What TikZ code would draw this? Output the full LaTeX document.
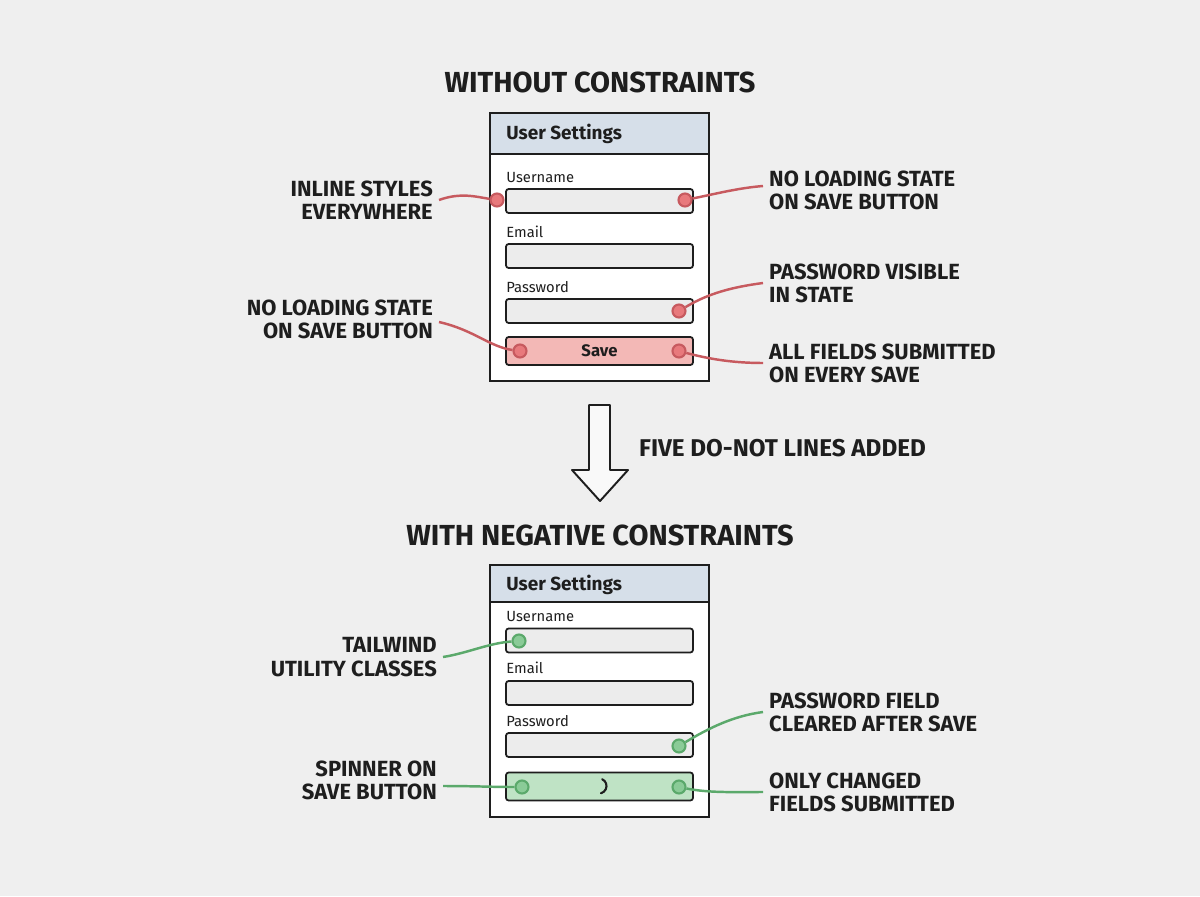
\documentclass[tikz,border=0pt]{standalone}
\usepackage{fontspec}
\setmainfont{Fira Sans}
\usetikzlibrary{positioning,calc}
\definecolor{bgpage}{HTML}{EFEFEF}
\definecolor{headfill}{HTML}{D6DFE9}
\definecolor{fieldfill}{HTML}{ECECEC}
\definecolor{savefill}{HTML}{F3B8B6}
\definecolor{gofill}{HTML}{BFE3C5}
\definecolor{redline}{HTML}{C75A5F}
\definecolor{reddot}{HTML}{E8797C}
\definecolor{greenline}{HTML}{5BA96B}
\definecolor{greendot}{HTML}{8ACB97}
\definecolor{ink}{HTML}{1E1E1E}

\begin{document}
\begin{tikzpicture}[
  x=0.02cm, y=-0.02cm,
  title/.style={font=\fontsize{16.5}{18}\selectfont\bfseries, text=ink},
  callout/.style={font=\fontsize{12.5}{13.2}\selectfont\bfseries, text=ink, align=left, anchor=west},
  calloutl/.style={callout, align=right, anchor=east},
  panel/.style={draw=ink, line width=1.1pt, fill=white, minimum width=4.38cm},
  head/.style={draw=ink, line width=1.1pt, fill=headfill, minimum width=4.38cm},
  headtxt/.style={font=\fontsize{10.8}{12}\selectfont\bfseries, text=ink, anchor=west, inner sep=0pt},
  field/.style={draw=ink, line width=1pt, fill=fieldfill, rounded corners=1.5pt,
    minimum width=3.74cm, minimum height=0.48cm},
  flabel/.style={font=\fontsize{8.4}{9}\selectfont, text=ink, anchor=base west, inner sep=0pt},
  baddot/.style={circle, draw=redline, fill=reddot, line width=1.2pt, minimum size=0.26cm, inner sep=0pt},
  gooddot/.style={circle, draw=greenline, fill=greendot, line width=1.2pt, minimum size=0.26cm, inner sep=0pt},
  badline/.style={draw=redline, line width=1.4pt},
  goodline/.style={draw=greenline, line width=1.4pt}
]
  \fill[bgpage] (0,0) rectangle (1200,896);
  \useasboundingbox (0,0) rectangle (1200,896);

  % before
  \node[title] (topTitle) at (600,82) {WITHOUT CONSTRAINTS};
  \node[panel, minimum height=5.36cm] (tPanel) at (599.5,247) {};
  \node[head, minimum height=0.82cm] (tHead) at (599.5,133.5) {};
  \node[headtxt] (tHeadTxt) at (506,134) {User Settings};
  \node[flabel] (tUserLbl) at (506,182) {Username};
  \node[field] (tUser) at (599.5,201) {};
  \node[flabel] (tMailLbl) at (506,237) {Email};
  \node[field] (tMail) at (599.5,256) {};
  \node[flabel] (tPassLbl) at (506,292) {Password};
  \node[field] (tPass) at (599.5,311) {};
  \node[field, fill=savefill, minimum height=0.56cm, font=\fontsize{9.5}{10}\selectfont\bfseries, text=ink] (tSave) at (599.5,351) {Save};

  \node[baddot] (tDotA) at (497,200) {};
  \node[baddot] (tDotB) at (685,200) {};
  \node[baddot] (tDotC) at (679,311) {};
  \node[baddot] (tDotD) at (520,351) {};
  \node[baddot] (tDotE) at (679,351) {};

  \node[calloutl] (tInline) at (439,200) {INLINE STYLES\\EVERYWHERE};
  \node[calloutl] (tLoadL) at (439,319) {NO LOADING STATE\\ON SAVE BUTTON};
  \node[callout] (tLoadR) at (763,190) {NO LOADING STATE\\ON SAVE BUTTON};
  \node[callout] (tVisible) at (763,283) {PASSWORD VISIBLE\\IN STATE};
  \node[callout] (tAllFields) at (763,363) {ALL FIELDS SUBMITTED\\ON EVERY SAVE};

  \draw[badline] (tInline.east) .. controls +(22,-8) and +(-20,-3) .. (tDotA);
  \draw[badline] ($(tLoadL.east)+(0,3)$) .. controls +(35,8) and +(-30,-4) .. (tDotD);
  \draw[badline] (tDotB) .. controls +(30,-6) and +(-25,2) .. ($(tLoadR.west)+(0,-4)$);
  \draw[badline] (tDotC) .. controls +(30,-18) and +(-30,4) .. (tVisible.west);
  \draw[badline] (tDotE) .. controls +(30,8) and +(-30,0) .. (tAllFields.west);

  % arrow between the two states
  \draw[draw=ink, line width=1.1pt, fill=white!60!bgpage, line join=round]
    (589,405) -- (610,405) -- (610,470) -- (628,470) -- (600,501)
    -- (572,470) -- (589,470) -- cycle;
  \node[callout, font=\fontsize{13.8}{15}\selectfont\bfseries] (added) at (633,448) {FIVE DO-NOT LINES ADDED};

  % after
  \node[title] (botTitle) at (600,535) {WITH NEGATIVE CONSTRAINTS};
  \node[panel, minimum height=5.04cm] (bPanel) at (599.5,691) {};
  \node[head, minimum height=0.74cm] (bHead) at (599.5,583.5) {};
  \node[headtxt] (bHeadTxt) at (506,585) {User Settings};
  \node[flabel] (bUserLbl) at (506,621) {Username};
  \node[field] (bUser) at (599.5,640.5) {};
  \node[flabel] (bMailLbl) at (506,673) {Email};
  \node[field] (bMail) at (599.5,693) {};
  \node[flabel] (bPassLbl) at (506,726) {Password};
  \node[field] (bPass) at (599.5,745) {};
  \node[field, fill=gofill, minimum height=0.56cm] (bSave) at (599.5,786.5) {};
  \draw[ink, line width=1.2pt, line cap=round] (599,786) ++(-65:7.5) arc[start angle=-65, end angle=75, radius=7.5];

  \node[gooddot] (bDotA) at (519,641) {};
  \node[gooddot] (bDotB) at (679,746) {};
  \node[gooddot] (bDotC) at (522,787) {};
  \node[gooddot] (bDotD) at (679,787) {};

  \node[calloutl] (bTailwind) at (443,657) {TAILWIND\\UTILITY CLASSES};
  \node[calloutl] (bSpinner) at (443,780) {SPINNER ON\\SAVE BUTTON};
  \node[callout] (bCleared) at (763,712) {PASSWORD FIELD\\CLEARED AFTER SAVE};
  \node[callout] (bChanged) at (763,792) {ONLY CHANGED\\FIELDS SUBMITTED};

  \draw[goodline] (bTailwind.east) .. controls +(25,-4) and +(-30,2) .. (bDotA);
  \draw[goodline] ($(bSpinner.east)+(0,6)$) .. controls +(30,0) and +(-30,0) .. (bDotC);
  \draw[goodline] (bDotB) .. controls +(30,-18) and +(-30,4) .. (bCleared.west);
  \draw[goodline] (bDotD) .. controls +(30,6) and +(-30,0) .. (bChanged.west);
\end{tikzpicture}
\end{document}
